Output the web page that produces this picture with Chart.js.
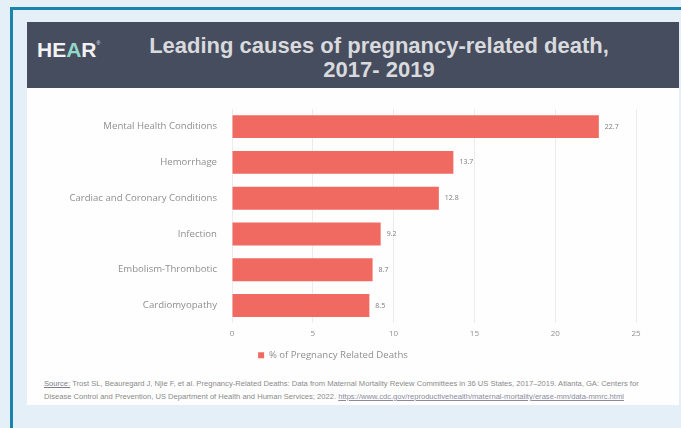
<!DOCTYPE html>
<html>
<head>
<meta charset="utf-8">
<script src="https://cdn.jsdelivr.net/npm/chart.js@4/dist/chart.umd.min.js"></script>
<style>
  html, body { margin: 0; padding: 0; }
  body { width: 681px; height: 428px; background: #e5eff7; position: relative; overflow: hidden; }
  .frame-top { position: absolute; left: 10px; top: 7px; width: 671px; height: 3px; background: #1b84ac; }
  .frame-left { position: absolute; left: 10px; top: 7px; width: 3px; height: 421px; background: #1b84ac; }
  .slide { position: absolute; left: 27px; top: 22px; width: 652px; height: 383px; background: #fefefe; }
  .header { position: absolute; left: 0; top: 0; width: 652px; height: 66px; background: #464d5e; }
  .logo { position: absolute; left: 10px; top: 16px; font-family: "Liberation Sans", Arial, sans-serif; font-weight: bold; font-size: 21px; color: #f2f2f2; letter-spacing: 0px; }
  .logo .a { color: #93d9c9; }
  .logo sup { font-size: 5px; vertical-align: top; position: relative; top: 2px; font-weight: normal; }
  .title { position: absolute; left: 82px; top: 12px; width: 540px; text-align: center; font-family: "Liberation Sans", Arial, sans-serif; font-weight: bold; font-size: 22px; line-height: 24px; color: #d9dadd; }
  .chart-box { position: absolute; left: 30px; top: 88px; width: 630px; height: 282px; }
  .source { position: absolute; left: 17px; top: 355px; width: 630px; font-family: "Liberation Sans", Arial, sans-serif; font-size: 7.6px; line-height: 13px; color: #8a8a8a; white-space: nowrap; }
  .source u { color: #7d7d8a; }
  .source .link { color: #8a8aa0; text-decoration: underline; }
</style>
</head>
<body>
<div class="frame-top"></div>
<div class="frame-left"></div>
<div class="slide">
  <div class="header">
    <div class="logo">HE<span class="a">A</span>R<sup>®</sup></div>
    <div class="title">Leading causes of pregnancy-related death,<br>2017- 2019</div>
  </div>
  <div class="source">
    <u>Source:</u> Trost SL, Beauregard J, Njie F, et al. Pregnancy-Related Deaths: Data from Maternal Mortality Review Committees in 36 US States, 2017–2019. Atlanta, GA: Centers for<br>
    Disease Control and Prevention, US Department of Health and Human Services; 2022. <span class="link">https://www.cdc.gov/reproductivehealth/maternal-mortality/erase-mm/data-mmrc.html</span>
  </div>
</div>
<div class="chart-box"><canvas id="chart" width="630" height="282"></canvas></div>

<script>
// Leading causes, share of pregnancy-related deaths (%)
const causes = [
  "Mental Health Conditions",
  "Hemorrhage",
  "Cardiac and Coronary Conditions",
  "Infection",
  "Embolism-Thrombotic",
  "Cardiomyopathy"
];
const pctDeaths = [22.7, 13.7, 12.8, 9.2, 8.7, 8.5];
const xTicks = [0, 5, 10, 15, 20, 25];
const seriesName = "% of Pregnancy Related Deaths";

const barColor = "#f06a62";
const labelColor = "#8f8f8f";
const fontFamily = "'Open Sans', 'Liberation Sans', sans-serif";

// Writes each bar's value just past its end
const valueLabels = {
  id: "valueLabels",
  afterDatasetsDraw(chart) {
    const ctx = chart.ctx;
    const meta = chart.getDatasetMeta(0);
    ctx.save();
    ctx.font = "7px " + fontFamily;
    ctx.fillStyle = "#7a7a7a";
    ctx.textAlign = "left";
    ctx.textBaseline = "middle";
    meta.data.forEach((bar, i) => {
      ctx.fillText(pctDeaths[i].toFixed(1), bar.x + 6, bar.y);
    });
    ctx.restore();
  }
};

new Chart(document.getElementById("chart"), {
  type: "bar",
  data: {
    labels: causes,
    datasets: [{
      label: seriesName,
      data: pctDeaths,
      backgroundColor: barColor,
      borderWidth: 0,
      barPercentage: 0.8,
      categoryPercentage: 0.8
    }]
  },
  options: {
    indexAxis: "y",
    responsive: false,
    animation: false,
    layout: { padding: { top: 8, right: 24, bottom: 0, left: 0 } },
    scales: {
      x: {
        min: xTicks[0],
        max: xTicks[xTicks.length - 1],
        afterBuildTicks(scale) { scale.ticks = xTicks.map(v => ({ value: v })); },
        afterFit(scale) { scale.height = 17; },
        grid: { color: "#ececec", lineWidth: 1, drawTicks: false },
        border: { display: false },
        ticks: { padding: 6, color: labelColor, font: { family: fontFamily, size: 8 } }
      },
      y: {
        afterFit(scale) { scale.width = 202; },
        grid: { display: false, drawTicks: false },
        border: { display: false },
        ticks: { padding: 15, color: labelColor, font: { family: fontFamily, size: 9.6 } }
      }
    },
    plugins: {
      legend: {
        position: "bottom",
        labels: {
          boxWidth: 6,
          boxHeight: 6,
          padding: 10,
          color: labelColor,
          font: { family: fontFamily, size: 9.6 }
        }
      },
      tooltip: { enabled: false }
    }
  },
  plugins: [valueLabels]
});
</script>
</body>
</html>
